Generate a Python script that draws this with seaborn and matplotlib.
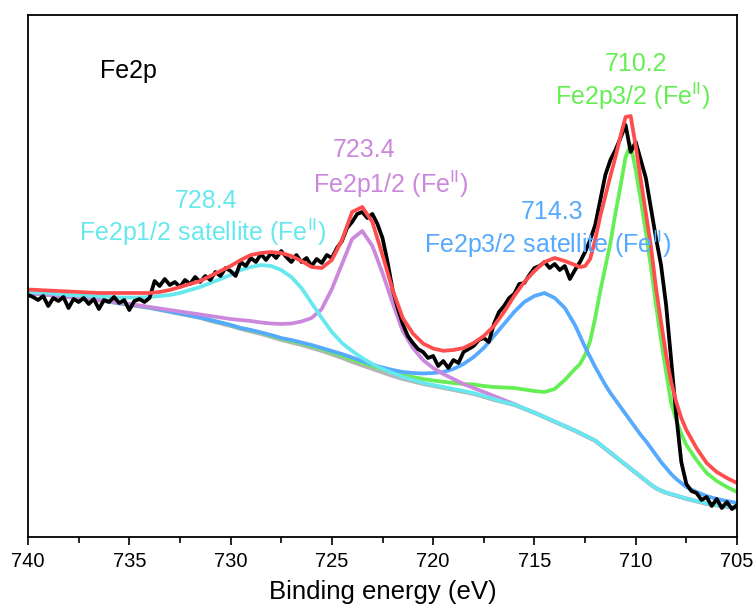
import numpy as np
import pandas as pd
import matplotlib
matplotlib.use("Agg")
import matplotlib.pyplot as plt
import seaborn as sns
from matplotlib.ticker import MultipleLocator

# ---------------- data (binding energy in eV, intensity in a.u.) ----------------
energy = [740, 739.5, 739, 738.5, 738, 737.5, 737, 736.5, 736, 735.5,
          735, 734.5, 734, 733.5, 733, 732.5, 732, 731.5, 731, 730.5,
          730, 729.5, 729, 728.5, 728, 727.5, 727, 726.5, 726, 725.5,
          725, 724.5, 724, 723.5, 723, 722.5, 722, 721.5, 721, 720.5,
          720, 719.5, 719, 718.5, 718, 717.5, 717, 716.5, 716, 715.5,
          715, 714.5, 714, 713.5, 713, 712.75, 712.5, 712.25, 712, 711.75,
          711.5, 711.25, 711, 710.75, 710.5, 710.25, 710, 709.75, 709.5, 709.25,
          709, 708.75, 708.5, 708.25, 708, 707.75, 707.5, 707, 706.5, 706,
          705.5, 705]

background = [244, 243, 242, 241, 240, 239, 238, 236.5, 235, 233.5,
              232, 230.5, 229, 227, 225, 223, 221, 219, 216, 213.5,
              211, 208, 205.5, 203, 200, 197, 194.5, 192, 189, 186,
              182.5, 179, 175, 171.5, 168, 164.5, 161, 158, 155.5, 153,
              151, 149, 147, 145, 143, 140, 137, 134.5, 132, 128,
              124, 119.5, 115, 110.5, 106, 103.5, 101, 98.5, 96, 92,
              88, 84, 80, 76, 72, 68, 64, 60, 56, 52,
              48.5, 46, 44, 42.5, 41, 39.5, 38, 35.5, 33, 31.5,
              30, 29]

peak_710 = [244.5, 243.5, 242.5, 241.5, 240.5, 239.5, 238.5, 237, 235.5, 234,
            232.5, 231, 229.7, 227.7, 225.7, 223.8, 221.8, 219.9, 217, 214.5,
            212, 209, 206.7, 204.3, 201.4, 198.5, 196.1, 193.7, 190.9, 188,
            184.7, 181.4, 177.6, 174.3, 171, 167.8, 164.6, 162, 160, 158,
            156.5, 155.2, 154, 153, 152.5, 151, 150, 149.5, 149, 147.5,
            146, 145, 148, 157, 168, 173, 182, 196, 219, 246,
            270, 294, 324, 351, 380, 392, 367, 337, 305, 270,
            232, 197, 165, 134, 117, 103, 92, 77, 64, 56,
            50, 45]

peak_714 = [244, 243, 242, 241, 240, 239, 238, 237, 235.5, 234,
            232.5, 231, 229.5, 227.5, 225.5, 223.5, 221.5, 219.5, 217, 214.5,
            212, 209, 207, 204.5, 202, 199, 197, 194.5, 192, 189,
            186, 183, 179.5, 176, 172.5, 169.5, 167, 165, 164, 163.5,
            164, 165, 168, 173, 180, 189, 201, 213, 225, 235,
            241, 244, 239, 229, 212, 201, 190, 180, 170, 161,
            152, 144, 137, 130, 123, 116, 109, 102, 96, 89,
            82, 75, 69, 63, 58, 54, 50, 45, 41, 38,
            36, 34]

peak_723 = [244, 243, 242, 241, 240, 239, 238, 237, 236, 234.5,
            233, 231.5, 230, 228.5, 227, 225.5, 224, 222.5, 221, 219.5,
            218, 217, 216, 214.5, 213.5, 213, 213.5, 215.5, 219, 228,
            248, 273, 298, 306, 291, 264, 234, 206, 189, 177,
            169, 163, 158, 153, 149, 145, 141, 137, 133, 128.5,
            124.5, 120, 115.5, 111, 106.5, 104, 101.5, 99, 96.5, 92.5,
            88.5, 84.5, 80.5, 76.5, 72.5, 68.5, 64.5, 60.5, 56.5, 52.5,
            49, 46.5, 44.5, 43, 41.5, 40, 38.5, 36, 33.5, 32,
            30.5, 29.5]

peak_728 = [245, 244.5, 244, 243, 242, 241.5, 241, 240.5, 240, 239.5,
            239.5, 239.5, 240, 241, 242, 244, 247, 250, 254, 258,
            262, 267, 270, 272, 271, 267, 260, 249, 234, 219,
            205, 194, 186, 179, 173, 168, 164, 160, 157, 154,
            152, 150, 148, 146, 144, 141, 138, 135, 132.5, 128.5,
            124.5, 120, 115.5, 111, 106.5, 104, 101.5, 99, 96.5, 92.5,
            88.5, 84.5, 80.5, 76.5, 72.5, 68.5, 64.5, 60.5, 56.5, 52.5,
            49, 46.5, 44.5, 43, 41.5, 40, 38.5, 36, 33.5, 32,
            30.5, 29.5]

envelope = [247.5, 247, 246.5, 246, 245.5, 245, 244.5, 244, 244, 244,
            244, 244, 244, 245, 247, 250, 253, 256, 261, 266,
            271, 277, 282, 284, 285, 284, 281, 276, 270, 269,
            277, 297, 325, 330, 315, 282, 247, 219, 203.5, 193.5,
            188.5, 186.2, 187, 189, 194, 201, 211, 225, 241, 255,
            266, 275, 279, 276, 272, 270, 271, 278, 297, 321,
            341, 361, 380, 401, 420, 421, 391, 357, 324, 291,
            249, 215, 182, 155, 135, 119, 107, 89, 74, 65,
            59, 54]

raw_energy = [740.0, 739.75, 739.5, 739.25, 739.0, 738.75, 738.5, 738.25, 738.0, 737.75,
              737.5, 737.25, 737.0, 736.75, 736.5, 736.25, 736.0, 735.75, 735.5, 735.25,
              735.0, 734.75, 734.5, 734.25, 734.0, 733.75, 733.5, 733.25, 733.0, 732.75,
              732.5, 732.25, 732.0, 731.75, 731.5, 731.25, 731.0, 730.75, 730.5, 730.25,
              730.0, 729.75, 729.5, 729.25, 729.0, 728.75, 728.5, 728.25, 728.0, 727.75,
              727.5, 727.25, 727.0, 726.75, 726.5, 726.25, 726.0, 725.75, 725.5, 725.25,
              725.0, 724.75, 724.5, 724.25, 724.0, 723.75, 723.5, 723.25, 723.0, 722.75,
              722.5, 722.25, 722.0, 721.75, 721.5, 721.25, 721.0, 720.75, 720.5, 720.25,
              720.0, 719.75, 719.5, 719.25, 719.0, 718.75, 718.5, 718.25, 718.0, 717.75,
              717.5, 717.25, 717.0, 716.75, 716.5, 716.25, 716.0, 715.75, 715.5, 715.25,
              715.0, 714.75, 714.5, 714.25, 714.0, 713.75, 713.5, 713.25, 713.0, 712.75,
              712.5, 712.25, 712.0, 711.75, 711.5, 711.25, 711.0, 710.75, 710.5, 710.25,
              710.0, 709.75, 709.5, 709.25, 709.0, 708.75, 708.5, 708.25, 708.0, 707.75,
              707.5, 707.25, 707.0, 706.75, 706.5, 706.25, 706.0, 705.75, 705.5, 705.25,
              705.0]

raw_counts = [242, 240, 237, 241, 231, 239, 236, 240, 229, 238,
              235, 239, 233, 238, 228, 237, 235, 240, 234, 237,
              227, 236, 238, 235, 239, 256, 251, 258, 252, 255,
              250, 257, 253, 260, 255, 261, 257, 265, 261, 269,
              266, 261, 275, 271, 279, 275, 283, 277, 284, 279,
              286, 280, 275, 282, 275, 279, 271, 278, 274, 282,
              279, 289, 296, 309, 315, 323, 325, 319, 323, 313,
              299, 275, 247, 229, 213, 201, 194, 188, 185, 179,
              181, 171, 176, 169, 177, 174, 185, 188, 191, 197,
              199, 195, 213, 225, 231, 239, 243, 253, 254, 262,
              269, 271, 275, 269, 273, 267, 271, 258, 267, 275,
              285, 297, 312, 337, 362, 377, 387, 399, 412, 385,
              395, 377, 359, 329, 299, 272, 232, 177, 122, 75,
              53, 46, 44, 37, 40, 31, 38, 29, 35, 28,
              32]

x_ticks = [740, 735, 730, 725, 720, 715, 710, 705]

labels = [
    ("Fe2p", 736.46, 466, "black", "left"),
    ("710.2", 709.97, 473, "#66EE55", "center"),
    ("Fe2p3/2 (Fe$^{\\rm II}$)", 710.16, 441, "#66EE55", "center"),
    ("714.3", 714.14, 325, "#55AAFF", "center"),
    ("Fe2p3/2 satellite (Fe$^{\\rm II}$)", 714.34, 293, "#55AAFF", "center"),
    ("723.4", 723.43, 387, "#CC88DD", "center"),
    ("Fe2p1/2 (Fe$^{\\rm II}$)", 722.11, 353, "#CC88DD", "center"),
    ("728.4", 731.20, 336, "#66E8EE", "center"),
    ("Fe2p1/2 satellite (Fe$^{\\rm II}$)", 731.40, 305, "#66E8EE", "center"),
]

# ---------------- styling ----------------
sns.set_theme(style="ticks")
plt.rcParams["font.family"] = ["Liberation Sans", "DejaVu Sans"]
plt.rcParams["mathtext.fontset"] = "custom"
plt.rcParams["mathtext.rm"] = "Liberation Sans"
plt.rcParams["mathtext.it"] = "Liberation Sans:italic"
plt.rcParams["mathtext.bf"] = "Liberation Sans:bold"
plt.rcParams["text.color"] = "black"
plt.rcParams["axes.labelcolor"] = "black"
plt.rcParams["xtick.color"] = "black"
plt.rcParams["ytick.color"] = "black"

fig = plt.figure(figsize=(7.56, 6.16), dpi=100)
ax = fig.add_axes([28 / 756, 1 - 537 / 616, (737 - 28) / 756, (537 - 15) / 616])

curves = pd.DataFrame({
    "energy": energy * 5,
    "intensity": background + peak_710 + peak_714 + peak_723 + peak_728,
    "curve": (["bg"] * len(energy) + ["p710"] * len(energy) + ["p714"] * len(energy)
              + ["p723"] * len(energy) + ["p728"] * len(energy)),
})
palette = {"bg": "#B4B4B4", "p710": "#66EE55", "p714": "#55AAFF",
           "p723": "#CC88DD", "p728": "#66E8EE"}
LW = 2.7
for name in ["bg", "p710", "p714", "p723", "p728"]:
    sub = curves[curves["curve"] == name]
    sns.lineplot(data=sub, x="energy", y="intensity", color=palette[name],
                 lw=LW, ax=ax, sort=False, estimator=None, legend=False)

raw = pd.DataFrame({"energy": raw_energy, "intensity": raw_counts})
sns.lineplot(data=raw, x="energy", y="intensity", color="black", lw=LW,
             ax=ax, sort=False, estimator=None, legend=False)

env = pd.DataFrame({"energy": energy, "intensity": envelope})
sns.lineplot(data=env, x="energy", y="intensity", color="#FF4D4D", lw=LW,
             ax=ax, sort=False, estimator=None, legend=False)

for text, xv, yv, col, ha in labels:
    ax.text(xv, yv, text, color=col, fontsize=18, ha=ha, va="center")

ax.set_xlim(740, 705)
ax.set_ylim(0, 522)
ax.set_xticks(x_ticks)
ax.set_xticklabels([str(t) for t in x_ticks])
ax.xaxis.set_minor_locator(MultipleLocator(2.5))
ax.set_yticks([])
ax.set_xlabel("Binding energy (eV)", fontsize=18.5, labelpad=6, color="black")
ax.set_ylabel("")
ax.tick_params(axis="x", which="major", direction="out", length=6, width=1.2,
               labelsize=14.5, pad=5, colors="black")
ax.tick_params(axis="x", which="minor", direction="out", length=4, width=1.2,
               colors="black")
for sp in ax.spines.values():
    sp.set_visible(True)
    sp.set_linewidth(1.3)
    sp.set_color("black")

fig.savefig("out.png", dpi=100)
